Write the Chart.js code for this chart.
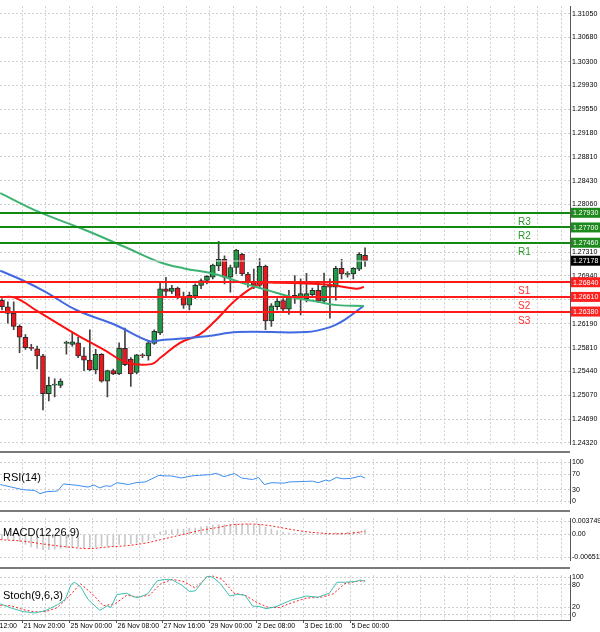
<!DOCTYPE html>
<html lang="en">
<head>
<meta charset="UTF-8" />
<title>GBPUSD H4</title>
<script src="https://cdn.jsdelivr.net/npm/chart.js@4.4.0/dist/chart.umd.min.js"></script>
<style>
  body { margin: 0; background: #fff; }
  #wrap { position: relative; width: 600px; height: 632px; overflow: hidden; }
  .pane { position: absolute; left: 0; width: 600px; }
  .sep { position: absolute; left: 0; width: 570px; height: 2px; background: #7a7a7a; }
</style>
</head>
<body>
<div id="wrap">
  <div class="pane" style="top:0;height:451px"><canvas id="main"></canvas></div>
  <div class="pane" style="top:453px;height:57px"><canvas id="rsi"></canvas></div>
  <div class="pane" style="top:512px;height:55px"><canvas id="macd"></canvas></div>
  <div class="pane" style="top:569px;height:63px"><canvas id="stoch"></canvas></div>
  <div class="sep" style="top:451px"></div>
  <div class="sep" style="top:510px"></div>
  <div class="sep" style="top:567px"></div>
</div>
<script>
// candles (H4)
const open = [1.26558,1.26455,1.26352,1.26147,1.25977,1.25813,1.25797,1.25684,1.25092,1.25226,
  1.25221,1.25879,1.25864,1.25890,1.25684,1.25617,1.25463,1.25710,1.25288,1.25452,
  1.25401,1.25802,1.25633,1.25426,1.25699,1.25684,1.25879,1.26044,1.26738,1.26697,
  1.26748,1.26609,1.26481,1.26625,1.26790,1.26867,1.26918,1.27098,1.27201,1.26918,
  1.27072,1.27279,1.26970,1.26851,1.26790,1.27088,1.26234,1.26455,1.26553,1.26419,
  1.26635,1.26609,1.26584,1.26645,1.26712,1.26543,1.26790,1.26764,1.27057,1.26964,
  1.26970,1.27047,1.27263];
const high = [1.26584,1.26532,1.26532,1.26173,1.26018,1.25864,1.25838,1.25710,1.25350,1.25323,
  1.25323,1.25915,1.26044,1.25977,1.25813,1.26095,1.25787,1.25720,1.25463,1.25478,
  1.25890,1.26121,1.25658,1.25710,1.25720,1.25926,1.26095,1.26841,1.26918,1.26790,
  1.26764,1.26686,1.26686,1.26815,1.26892,1.26944,1.27124,1.27484,1.27253,1.27108,
  1.27355,1.27294,1.26995,1.27047,1.27211,1.27108,1.26507,1.26584,1.26584,1.26712,
  1.26944,1.26892,1.26980,1.26748,1.26790,1.26985,1.26892,1.27088,1.27201,1.27006,
  1.27072,1.27304,1.27381];
const low = [1.26404,1.26198,1.26095,1.25735,1.25787,1.25771,1.25478,1.24835,1.24979,1.25041,
  1.25185,1.25710,1.25838,1.25658,1.25452,1.25452,1.25401,1.25272,1.25041,1.25390,
  1.25390,1.25530,1.25205,1.25401,1.25658,1.25617,1.25864,1.26018,1.26609,1.26661,
  1.26584,1.26430,1.26404,1.26584,1.26738,1.26815,1.26892,1.27021,1.26815,1.26686,
  1.26970,1.26944,1.26764,1.26738,1.26738,1.26095,1.26147,1.26404,1.26378,1.26337,
  1.26507,1.26327,1.26532,1.26609,1.26522,1.26507,1.26275,1.26558,1.26892,1.26918,
  1.26892,1.27021,1.27088];
const close = [1.26455,1.26352,1.26147,1.25977,1.25813,1.25802,1.25684,1.25092,1.25221,1.25236,
  1.25288,1.25900,1.25905,1.25684,1.25617,1.25463,1.25710,1.25288,1.25452,1.25401,
  1.25802,1.25545,1.25401,1.25699,1.25684,1.25890,1.26070,1.26738,1.26697,1.26748,
  1.26609,1.26481,1.26635,1.26790,1.26867,1.26934,1.27108,1.27201,1.26918,1.27072,
  1.27345,1.26970,1.26841,1.26790,1.27088,1.26234,1.26471,1.26543,1.26419,1.26609,
  1.26604,1.26661,1.26661,1.26712,1.26543,1.26779,1.26764,1.27057,1.26970,1.26980,
  1.27057,1.27279,1.27178];

// moving averages (x = candle index)
const maGreenX = [-0.3,6.2,14.1,21.3,27.1,31.1,36.3,41.5,45.5,49.4,54.0,57.2,61.8];
const maGreenY = [1.28240,1.27947,1.27664,1.27381,1.27150,1.27057,1.26970,1.26815,1.26712,1.26609,1.26532,1.26481,1.26466];
const maBlueX = [-0.3,3.6,7.5,12.7,19.3,25.2,27.1,35.0,40.2,52.0,55.9,58.5,61.8];
const maBlueY = [1.27021,1.26867,1.26686,1.26404,1.26173,1.25915,1.25931,1.25993,1.26059,1.26059,1.26132,1.26250,1.26471];
const maRedX = [-0.3,2.3,6.2,12.7,17.3,21.3,25.5,27.1,30.4,33.7,36.3,40.2,44.1,46.8,55.9,60.5,61.8];
const maRedY = [1.26609,1.26594,1.26378,1.26018,1.25787,1.25581,1.25555,1.25658,1.25890,1.26018,1.26224,1.26584,1.26815,1.26831,1.26800,1.26738,1.26764];

// pivot levels
const resLevels = [1.27930, 1.27700, 1.27460];
const resNames = ["R3", "R2", "R1"];
const supLevels = [1.26840, 1.26610, 1.26380];
const supNames = ["S1", "S2", "S3"];
const lastPrice = 1.27178;
const priceTicks = [1.31050,1.30680,1.30300,1.29930,1.29550,1.29180,1.28810,1.28430,1.28060,1.27310,1.26940,1.26570,1.26190,1.25810,1.25440,1.25070,1.24690,1.24320];

// RSI(14)
const rsiX = [-0.3,1.6,3.6,5.6,6.5,7.5,9.5,10.5,12.8,14.7,15.7,16.7,17.7,18.6,19.6,21.6,22.9,24.5,26.8,27.8,28.8,30.7,32.4,33.7,35.6,36.6,37.9,39.7,40.9,42.8,43.8,44.8,46.1,48.1,49.1,52,53,54,55.3,55.9,57.1,58.2,59.5,61.2,62];
const rsiY = [43.3,36.7,30,28,20,24.7,26.7,44.7,41.3,36.7,42,34.7,40,38.7,48,43.3,48,50,66.7,65.3,65.3,60,65.3,66.7,68.7,72,63.3,71.3,60,56,61.3,43.3,48,46.7,50,51.3,52,48,54.7,52,61.3,58,58.7,64.7,60];

// MACD(12,26,9)
const macdHist = [-0.00120,-0.00149,-0.00172,-0.00209,-0.00284,-0.00359,-0.00396,-0.00433,-0.00433,-0.00418,
  -0.00396,-0.00381,-0.00374,-0.00359,-0.00374,-0.00396,-0.00359,-0.00344,-0.00344,-0.00321,
  -0.00284,-0.00299,-0.00269,-0.00247,-0.00224,-0.00172,-0.00097,
  0.00075,0.00105,0.00127,0.00149,0.00149,0.00179,0.00179,0.00217,0.00239,0.00254,0.00276,0.00276,0.00291,
  0.00299,0.00284,0.00291,0.00254,0.00291,0.00202,0.00149,0.00105,0.00067,0.00037,0.00030,0.00030,0.00015,
  0.00015,0,0.00015,0.00030,0.00045,0.00052,0.00067,0.00075,0.00075,0.00127];
const macdSigX = [-0.3,3.6,7.5,11.4,14.7,18,21.3,24.5,27.1,30.4,33.7,37,39.6,42.8,45.5,48.1,51.3,54.6,57.2,59.8,62];
const macdSigY = [-0.00149,-0.00194,-0.00284,-0.00359,-0.00403,-0.00359,-0.00321,-0.00247,-0.00149,-0.00022,0.00105,0.00202,0.00276,0.00291,0.00254,0.00179,0.00090,0.00037,0.00015,0.00037,0.00090];

// Stoch(9,6,3)
const stMainX = [-0.3,1.6,3.6,5.6,7.5,9.5,10.8,11.8,12.4,13.4,14.7,16.7,18,18.6,19.6,21.3,22.6,23.5,24.9,26.5,27.8,29.1,30.7,32,33,34,35,36,37.3,38.9,40.2,41.5,42.8,44.1,45.1,46.8,49.4,52,54,55.9,57.2,58.5,60.5,61.2,62];
const stMainY = [29,17.6,8.4,4.6,11.5,26.7,40.5,80.2,86.3,74.8,40.5,11.5,23.7,19.1,53.4,57.3,46.6,46.6,55.7,90.1,93.9,92.4,78.6,61.8,63.4,82.4,102,100,82.4,49.6,54.2,51.9,22.9,21.4,16,21.4,38.9,49.6,46.6,57.3,86.3,86.3,88.5,92.4,88.5];
const stSigX = [-0.3,1.6,3.6,5.6,7.5,9.5,11.4,13.4,15.4,17.3,19.3,21.3,23.2,25.2,27.1,29.1,31.1,33,35,36,37.6,39.6,41.5,43.5,45.5,47.4,49.4,52,54.6,56.6,58.5,60.5,62];
const stSigY = [25.2,23.7,13.7,7.6,8.4,19.1,48.1,82.4,55.7,23.7,29,51.9,46.6,51.9,82.4,93.9,87.8,71,100,103,93.9,57.3,51.9,32.8,19.1,19.1,31.3,44.3,46.6,55.7,82.4,88.5,90.1];

// time axis
const timeIdx = [-0.6,3.4,11.4,19.4,27.4,35.4,43.4,51.4,59.4];
const timeLabels = ["12:00","21 Nov 20:00","25 Nov 00:00","26 Nov 08:00","27 Nov 16:00","29 Nov 00:00","2 Dec 08:00","3 Dec 16:00","5 Dec 00:00"];

const XMIN = -0.34, XMAX = 97.0;
const FONT = "Liberation Sans, Arial, sans-serif";
const GREEN = "#1f9b46", RED = "#e8191e";

const pts = (xs, ys) => xs.map((x, i) => ({ x, y: ys[i] }));
const idx = open.map((_, i) => i);

function xScale() {
  return {
    type: "linear", min: XMIN, max: XMAX, offset: false,
    afterBuildTicks: s => { const t = []; for (let v = 3.5; v < XMAX; v += 4) t.push({ value: v }); s.ticks = t; },
    ticks: { display: false },
    grid: { color: "#cfcfcf", drawTicks: false, offset: false },
    border: { display: false, dash: [2, 2] }
  };
}
function yScale(min, max, ticks, fmt) {
  return {
    type: "linear", position: "right", min, max,
    afterBuildTicks: s => { s.ticks = ticks.map(v => ({ value: v })); },
    afterFit: s => { s.width = 30; },
    ticks: { font: { family: FONT, size: 7 }, color: "#000", padding: 2, callback: fmt },
    grid: { color: "#cfcfcf", drawTicks: false },
    border: { display: true, color: "#555", dash: [2, 2] }
  };
}
function baseOpts(yopt, extra) {
  return Object.assign({
    responsive: true, maintainAspectRatio: false, animation: false,
    layout: { padding: 0 },
    plugins: { legend: { display: false }, tooltip: { enabled: false } },
    scales: { x: xScale(), y: yopt }
  }, extra || {});
}
function title(text, y) {
  return { id: "t" + text, afterDraw: c => {
    const g = c.ctx; g.save(); g.font = "11px " + FONT; g.fillStyle = "#000";
    g.textBaseline = "middle"; g.fillText(text, 3, y); g.restore();
  } };
}

const levelsPlugin = {
  id: "levels",
  afterDraw: c => {
    const g = c.ctx, y = c.scales.y, a = c.chartArea;
    g.save();
    const line = (v, col, w) => {
      const py = Math.round(y.getPixelForValue(v));
      g.strokeStyle = col; g.lineWidth = w;
      g.beginPath(); g.moveTo(a.left, py); g.lineTo(a.right, py); g.stroke();
      return py;
    };
    const tag = (v, bg) => {
      const py = y.getPixelForValue(v);
      g.fillStyle = bg; g.fillRect(a.right + 1, py - 5, 30, 10);
      g.fillStyle = "#fff"; g.font = "7px " + FONT; g.textBaseline = "middle";
      g.fillText(v.toFixed(5), a.right + 3, py + 0.5);
    };
    line(lastPrice, "#d8d8d8", 1);
    g.font = "10px " + FONT; g.textBaseline = "top";
    resLevels.forEach((v, i) => {
      const py = line(v, "#128a12", 2);
      g.fillStyle = "#2a9a2a"; g.fillText(resNames[i], 518, py + 4);
    });
    supLevels.forEach((v, i) => {
      const py = line(v, "#ff1a1a", 2);
      g.fillStyle = "#ff3030"; g.fillText(supNames[i], 518, py + 4);
    });
    resLevels.forEach(v => tag(v, "#1e8a1e"));
    supLevels.forEach(v => tag(v, "#ff2020"));
    tag(lastPrice, "#000");
    g.restore();
  }
};

new Chart(document.getElementById("main"), {
  type: "bar",
  data: {
    datasets: [
      { type: "line", data: pts(maGreenX, maGreenY), borderColor: "#3cb371", borderWidth: 2, pointRadius: 0, tension: 0.4, order: 1 },
      { type: "line", data: pts(maBlueX, maBlueY), borderColor: "#4169e1", borderWidth: 2, pointRadius: 0, tension: 0.4, order: 1 },
      { type: "line", data: pts(maRedX, maRedY), borderColor: "#ff1010", borderWidth: 2, pointRadius: 0, tension: 0.4, order: 1 },
      { data: idx.map(i => ({ x: i, y: [low[i], high[i]] })), backgroundColor: "#444", barThickness: 1, grouped: false, order: 3 },
      { data: idx.map(i => ({ x: i, y: [open[i], close[i]] })),
        backgroundColor: idx.map(i => close[i] >= open[i] ? GREEN : RED),
        borderColor: "#2b2b2b", borderWidth: 1, borderSkipped: false, barThickness: 5, grouped: false, minBarLength: 1, order: 2 }
    ]
  },
  options: baseOpts(yScale(1.24289, 1.31172, priceTicks, v => v.toFixed(5))),
  plugins: [levelsPlugin]
});

new Chart(document.getElementById("rsi"), {
  type: "line",
  data: { datasets: [{ data: pts(rsiX, rsiY), borderColor: "#3d8ff0", borderWidth: 1, pointRadius: 0 }] },
  options: baseOpts(yScale(-6, 108, [0, 30, 70, 100], v => String(v))),
  plugins: [title("RSI(14)", 25)]
});

new Chart(document.getElementById("macd"), {
  type: "bar",
  data: { datasets: [
    { type: "line", data: pts(macdSigX, macdSigY), borderColor: "#ff2020", borderWidth: 1, borderDash: [2, 2], pointRadius: 0, tension: 0.4, order: 1 },
    { data: idx.map(i => ({ x: i, y: macdHist[i] })), backgroundColor: "#c8c8c8", barThickness: 1, order: 2 }
  ] },
  options: baseOpts(yScale(-0.0075, 0.0046, [0.003749, 0, -0.006511], v => v === 0 ? "0.00" : v.toFixed(6))),
  plugins: [title("MACD(12,26,9)", 21)]
});

const timePlugin = {
  id: "time",
  afterDraw: c => {
    const g = c.ctx, x = c.scales.x, a = c.chartArea;
    g.save(); g.font = "7px " + FONT; g.fillStyle = "#000"; g.strokeStyle = "#555"; g.textBaseline = "top";
    timeIdx.forEach((v, i) => {
      const px = Math.round(x.getPixelForValue(v)) + 0.5;
      g.beginPath(); g.moveTo(px, a.bottom); g.lineTo(px, a.bottom + 3); g.stroke();
      g.fillText(timeLabels[i], px + 1, a.bottom + 3);
    });
    g.beginPath(); g.moveTo(0, a.bottom + 0.5); g.lineTo(a.right, a.bottom + 0.5); g.stroke();
    g.restore();
  }
};
new Chart(document.getElementById("stoch"), {
  type: "line",
  data: { datasets: [
    { data: pts(stMainX, stMainY), borderColor: "#3fbfb0", borderWidth: 1, pointRadius: 0 },
    { data: pts(stSigX, stSigY), borderColor: "#ff2020", borderWidth: 1, borderDash: [2, 2], pointRadius: 0 }
  ] },
  options: baseOpts(yScale(-14, 105, [0, 20, 80, 100], v => String(v)), { layout: { padding: { bottom: 12 } } }),
  plugins: [title("Stoch(9,6,3)", 27), timePlugin]
});
</script>
</body>
</html>
